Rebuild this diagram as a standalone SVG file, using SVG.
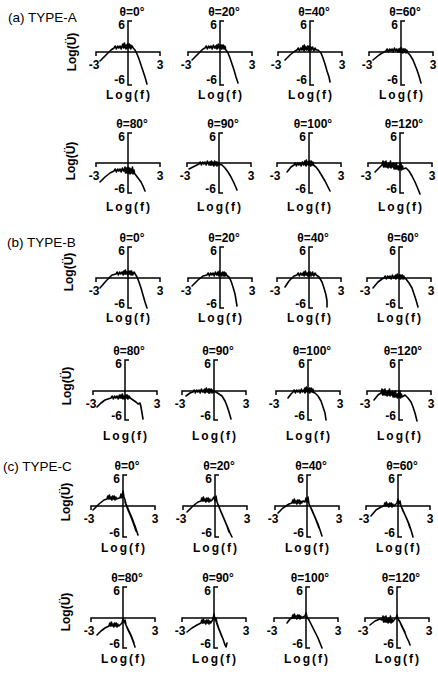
<svg xmlns="http://www.w3.org/2000/svg" width="438" height="674" viewBox="0 0 438 674">
<style>
.ax{fill:none;stroke:#000;stroke-width:1.5}
.cv{fill:none;stroke:#000;stroke-width:1.6;stroke-linejoin:round;stroke-linecap:round}
text{font-family:"Liberation Sans",Arial,sans-serif;font-weight:bold;font-size:12px;fill:#000}
.e{text-anchor:end}
.m{text-anchor:middle}
.sec{font-weight:normal;font-size:13.5px}
</style>
<rect width="438" height="674" fill="#fff"/>
<g id="labels">
<text class="sec" x="8" y="22">(a) TYPE-A</text>
<text class="sec" x="7" y="247">(b) TYPE-B</text>
<text class="sec" x="3" y="471">(c) TYPE-C</text>
</g>
<!-- Row a1 -->
<g id="a-0" transform="translate(128,52)">
<path class="ax" d="M-32,4V0H32V4M4,-31H0V33H4"/>
<text class="e" x="-3" y="-23">6</text><text class="e" x="-3" y="32">-6</text>
<text class="m" x="-34" y="17">-3</text><text class="m" x="32" y="17">3</text>
<text class="m" x="4" y="-36">θ=0°</text><text class="m" x="0" y="47" textLength="44">Log(f)</text>
<text class="m" transform="translate(-52,0) rotate(-90)">Log(Ü)</text>
<path class="cv" d="M-28,9 L-22,3 L-17,-2 L-14,-4 l1.2,-2 l1.2,3 l1.2,-3 l1.2,2 l1.2,-2 l1.2,3 l1.2,-4 l1.2,3 l1.2,-2 l1.2,3 l1.2,-3 l1.2,2 l1.2,-3 l1.2,4 l1.2,-3 l1.2,2 L7,-2 L9,2 L11,7 L13,13 L15,19 L17,25 L19,32 M-6,-5 l0.8,-3 l0.8,3 l0.8,-4 l0.8,4 l0.8,-2 l0.8,3 l0.8,-4 l0.8,3 l0.8,-3 l0.8,4 l0.8,-3 l0.8,2"/>
</g>
<g id="a-20" transform="translate(220,52)">
<path class="ax" d="M-32,4V0H32V4M4,-31H0V33H4"/>
<text class="e" x="-3" y="-23">6</text><text class="e" x="-3" y="32">-6</text>
<text class="m" x="-34" y="17">-3</text><text class="m" x="32" y="17">3</text>
<text class="m" x="4" y="-36">θ=20°</text><text class="m" x="0" y="47" textLength="44">Log(f)</text>
<path class="cv" d="M-28,8 L-22,2 L-17,-3 L-15,-4 l1.2,-2 l1.2,3 l1.2,-3 l1.2,2 l1.2,-2 l1.2,3 l1.2,-4 l1.2,3 l1.2,-2 l1.2,3 l1.2,-3 l1.2,2 l1.2,-3 l1.2,4 l1.2,-3 l1.2,2 L6,-2 L8,1 L10,6 L12,12 L14,18 L16,25 L18,31 M-4,-4 l0.8,-3 l0.8,3 l0.8,-4 l0.8,4 l0.8,-2 l0.8,3 l0.8,-4 l0.8,3 l0.8,-3 l0.8,4 l0.8,-3 l0.8,2"/>
</g>
<g id="a-40" transform="translate(310,52)">
<path class="ax" d="M-32,4V0H32V4M4,-31H0V33H4"/>
<text class="e" x="-3" y="-23">6</text><text class="e" x="-3" y="32">-6</text>
<text class="m" x="-34" y="17">-3</text><text class="m" x="32" y="17">3</text>
<text class="m" x="4" y="-36">θ=40°</text><text class="m" x="0" y="47" textLength="44">Log(f)</text>
<path class="cv" d="M-25,8 L-20,3 L-15,-1 L-13,-2 l1.2,-2 l1.2,3 l1.2,-3 l1.2,2 l1.2,-2 l1.2,3 l1.2,-4 l1.2,3 l1.2,-2 l1.2,3 l1.2,-3 l1.2,2 l1.2,-3 l1.2,4 l1.2,-3 l1.2,2 L8,-2 L11,1 L13,6 L15,12 L17,19 L19,25 L20,30 M-8,-3 l0.8,-3 l0.8,3 l0.8,-4 l0.8,4 l0.8,-2 l0.8,3 l0.8,-4 l0.8,3 l0.8,-3 l0.8,4 l0.8,-3 l0.8,2"/>
</g>
<g id="a-60" transform="translate(401,52)">
<path class="ax" d="M-32,4V0H32V4M4,-31H0V33H4"/>
<text class="e" x="-3" y="-23">6</text><text class="e" x="-3" y="32">-6</text>
<text class="m" x="-34" y="17">-3</text><text class="m" x="32" y="17">3</text>
<text class="m" x="4" y="-36">θ=60°</text><text class="m" x="0" y="47" textLength="44">Log(f)</text>
<path class="cv" d="M-28,8 L-22,3 L-17,0 L-15,-1 l1.2,-2 l1.2,3 l1.2,-3 l1.2,2 l1.2,-2 l1.2,3 l1.2,-4 l1.2,3 l1.2,-2 l1.2,3 l1.2,-3 l1.2,2 l1.2,-3 l1.2,4 l1.2,-3 l1.2,2 L6,0 L9,3 L12,8 L14,13 L16,18 L18,24 L20,31 M-3,0 l0.8,-3 l0.8,3 l0.8,-4 l0.8,4 l0.8,-2 l0.8,3 l0.8,-4 l0.8,3 l0.8,-3 l0.8,4 l0.8,-3 l0.8,2"/>
</g>
<!-- Row a2 -->
<g id="a-80" transform="translate(128,163)">
<path class="ax" d="M-32,4V0H32V4M4,-30H0V30H4"/>
<text class="e" x="-3" y="-22">6</text><text class="e" x="-3" y="30">-6</text>
<text class="m" x="-34" y="17">-3</text><text class="m" x="32" y="17">3</text>
<text class="m" x="4" y="-35">θ=80°</text><text class="m" x="0" y="48" textLength="44">Log(f)</text>
<text class="m" transform="translate(-53,-2) rotate(-90)">Log(Ü)</text>
<path class="cv" d="M-28,19 L-23,14 L-18,10 L-14,8 l1.2,-2 l1.2,3 l1.2,-3 l1.2,2 l1.2,-2 l1.2,3 l1.2,-4 l1.2,3 l1.2,-2 l1.2,3 l1.2,-3 l1.2,2 l1.2,-3 l1.2,4 l1.2,-3 l1.2,2 L7,11 L10,15 L13,19 L15,23 L17,28 M-4,8 l1,-4 l0.5,6 l1,-5 l0.5,5 l1,-6 l0.5,6 l1,-3 l0.5,4 l1,-5 l0.5,4 l1,-6 l0.5,7 l1,-4 l0.5,3"/>
</g>
<g id="a-90" transform="translate(219,163)">
<path class="ax" d="M-32,4V0H32V4M4,-30H0V30H4"/>
<text class="e" x="-3" y="-22">6</text><text class="e" x="-3" y="30">-6</text>
<text class="m" x="-34" y="17">-3</text><text class="m" x="32" y="17">3</text>
<text class="m" x="4" y="-35">θ=90°</text><text class="m" x="0" y="48" textLength="44">Log(f)</text>
<path class="cv" d="M-30,6 L-26,4 L-22,2 L-20,1 l1.2,-2 l1.2,3 l1.2,-3 l1.2,2 l1.2,-2 l1.2,3 l1.2,-4 l1.2,3 l1.2,-2 l1.2,3 l1.2,-3 l1.2,2 l1.2,-3 l1.2,4 l1.2,-3 l1.2,2 L3,2 L6,5 L9,9 L12,14 L15,20 L18,27 M-10,2 l0.8,-3 l0.8,3 l0.8,-4 l0.8,4 l0.8,-2 l0.8,3 l0.8,-4 l0.8,3 l0.8,-3 l0.8,4 l0.8,-3 l0.8,2"/>
</g>
<g id="a-100" transform="translate(309,163)">
<path class="ax" d="M-32,4V0H32V4M4,-30H0V30H4"/>
<text class="e" x="-3" y="-22">6</text><text class="e" x="-3" y="30">-6</text>
<text class="m" x="-34" y="17">-3</text><text class="m" x="32" y="17">3</text>
<text class="m" x="4" y="-35">θ=100°</text><text class="m" x="0" y="48" textLength="44">Log(f)</text>
<path class="cv" d="M-22,9 L-18,4 L-15,2 l1.2,-2 l1.2,3 l1.2,-3 l1.2,2 l1.2,-2 l1.2,3 l1.2,-4 l1.2,3 l1.2,-2 l1.2,3 l1.2,-3 l1.2,2 l1.2,-3 l1.2,4 l1.2,-3 l1.2,2 L7,4 L10,8 L13,13 L16,18 L19,24 L21,28 M-5,1 l0.8,-3 l0.8,3 l0.8,-4 l0.8,4 l0.8,-2 l0.8,3 l0.8,-4 l0.8,3 l0.8,-3 l0.8,4 l0.8,-3 l0.8,2"/>
</g>
<g id="a-120" transform="translate(400,163)">
<path class="ax" d="M-32,4V0H32V4M4,-30H0V30H4"/>
<text class="e" x="-3" y="-22">6</text><text class="e" x="-3" y="30">-6</text>
<text class="m" x="-34" y="17">-3</text><text class="m" x="32" y="17">3</text>
<text class="m" x="4" y="-35">θ=120°</text><text class="m" x="0" y="48" textLength="44">Log(f)</text>
<path class="cv" d="M-25,9 L-21,5 L-18,2 l1,-4 l0.5,6 l1,-5 l0.5,5 l1,-6 l0.5,6 l1,-3 l0.5,4 l1,-5 l0.5,4 l1,-6 l0.5,7 l1,-4 l0.5,3 l1,-4 l0.5,6 l1,-5 l0.5,5 l1,-6 l0.5,6 l1,-3 l0.5,4 l1,-5 l0.5,4 l1,-6 l0.5,7 l1,-4 l0.5,3 L6,5 L9,8 L12,13 L15,19 L18,26 L20,31"/>
</g>
<!-- Row b1 -->
<g id="b-0" transform="translate(128,278)">
<path class="ax" d="M-32,4V0H32V4M4,-31H0V30H4"/>
<text class="e" x="-3" y="-23">6</text><text class="e" x="-3" y="30">-6</text>
<text class="m" x="-34" y="17">-3</text><text class="m" x="32" y="17">3</text>
<text class="m" x="4" y="-36">θ=0°</text><text class="m" x="0" y="44" textLength="44">Log(f)</text>
<text class="m" transform="translate(-55,-6) rotate(-90)">Log(Ü)</text>
<path class="cv" d="M-28,10 L-22,3 L-16,-3 L-12,-4 l1.2,-2 l1.2,3 l1.2,-3 l1.2,2 l1.2,-2 l1.2,3 l1.2,-4 l1.2,3 l1.2,-2 l1.2,3 l1.2,-3 l1.2,2 l1.2,-3 l1.2,4 l1.2,-3 l1.2,2 L9,-1 L11,4 L13,10 L15,17 L17,24 L19,30 M-5,-4 l0.8,-3 l0.8,3 l0.8,-4 l0.8,4 l0.8,-2 l0.8,3 l0.8,-4 l0.8,3 l0.8,-3 l0.8,4 l0.8,-3 l0.8,2"/>
</g>
<g id="b-20" transform="translate(220,278)">
<path class="ax" d="M-32,4V0H32V4M4,-31H0V30H4"/>
<text class="e" x="-3" y="-23">6</text><text class="e" x="-3" y="30">-6</text>
<text class="m" x="-34" y="17">-3</text><text class="m" x="32" y="17">3</text>
<text class="m" x="4" y="-36">θ=20°</text><text class="m" x="0" y="44" textLength="44">Log(f)</text>
<path class="cv" d="M-28,8 L-22,2 L-17,-2 L-13,-3 l1.2,-2 l1.2,3 l1.2,-3 l1.2,2 l1.2,-2 l1.2,3 l1.2,-4 l1.2,3 l1.2,-2 l1.2,3 l1.2,-3 l1.2,2 l1.2,-3 l1.2,4 l1.2,-3 l1.2,2 L9,-1 L11,3 L13,9 L15,16 L16,22 L17,28 M-3,-3 l0.8,-3 l0.8,3 l0.8,-4 l0.8,4 l0.8,-2 l0.8,3 l0.8,-4 l0.8,3 l0.8,-3 l0.8,4 l0.8,-3 l0.8,2"/>
</g>
<g id="b-40" transform="translate(309,278)">
<path class="ax" d="M-32,4V0H32V4M4,-31H0V30H4"/>
<text class="e" x="-3" y="-23">6</text><text class="e" x="-3" y="30">-6</text>
<text class="m" x="-34" y="17">-3</text><text class="m" x="32" y="17">3</text>
<text class="m" x="4" y="-36">θ=40°</text><text class="m" x="0" y="44" textLength="44">Log(f)</text>
<path class="cv" d="M-24,9 L-20,3 L-15,-2 L-12,-3 l1.2,-2 l1.2,3 l1.2,-3 l1.2,2 l1.2,-2 l1.2,3 l1.2,-4 l1.2,3 l1.2,-2 l1.2,3 l1.2,-3 l1.2,2 l1.2,-3 l1.2,4 l1.2,-3 l1.2,2 L10,-1 L13,4 L15,10 L17,17 L18,23 L18,29 M-6,-3 l0.8,-3 l0.8,3 l0.8,-4 l0.8,4 l0.8,-2 l0.8,3 l0.8,-4 l0.8,3 l0.8,-3 l0.8,4 l0.8,-3 l0.8,2"/>
</g>
<g id="b-60" transform="translate(399,278)">
<path class="ax" d="M-32,4V0H32V4M4,-31H0V30H4"/>
<text class="e" x="-3" y="-23">6</text><text class="e" x="-3" y="30">-6</text>
<text class="m" x="-34" y="17">-3</text><text class="m" x="32" y="17">3</text>
<text class="m" x="4" y="-36">θ=60°</text><text class="m" x="0" y="44" textLength="44">Log(f)</text>
<path class="cv" d="M-26,10 L-21,4 L-17,1 L-15,0 l1.2,-2 l1.2,3 l1.2,-3 l1.2,2 l1.2,-2 l1.2,3 l1.2,-4 l1.2,3 l1.2,-2 l1.2,3 l1.2,-3 l1.2,2 l1.2,-3 l1.2,4 l1.2,-3 l1.2,2 L7,1 L10,5 L13,10 L15,16 L17,22 L19,29 M-4,0 l0.8,-3 l0.8,3 l0.8,-4 l0.8,4 l0.8,-2 l0.8,3 l0.8,-4 l0.8,3 l0.8,-3 l0.8,4 l0.8,-3 l0.8,2"/>
</g>
<!-- Row b2 -->
<g id="b-80" transform="translate(125,391)">
<path class="ax" d="M-32,4V0H32V4M4,-31H0V29H4"/>
<text class="e" x="-3" y="-23">6</text><text class="e" x="-3" y="29">-6</text>
<text class="m" x="-34" y="17">-3</text><text class="m" x="32" y="17">3</text>
<text class="m" x="4" y="-36">θ=80°</text><text class="m" x="0" y="49" textLength="44">Log(f)</text>
<text class="m" transform="translate(-54,-5) rotate(-90)">Log(Ü)</text>
<path class="cv" d="M-28,16 L-24,12 L-20,9 L-14,7 l1.2,-2 l1.2,3 l1.2,-3 l1.2,2 l1.2,-2 l1.2,3 l1.2,-4 l1.2,3 l1.2,-2 l1.2,3 l1.2,-3 l1.2,2 l1.2,-3 l1.2,4 l1.2,-3 l1.2,2 L8,9 L11,11 L13,13 L15,12 L16,16 L17,22 L18,28 M-5,7 l0.8,-3 l0.8,3 l0.8,-4 l0.8,4 l0.8,-2 l0.8,3 l0.8,-4 l0.8,3 l0.8,-3 l0.8,4 l0.8,-3 l0.8,2"/>
</g>
<g id="b-90" transform="translate(214,391)">
<path class="ax" d="M-32,4V0H32V4M4,-31H0V29H4"/>
<text class="e" x="-3" y="-23">6</text><text class="e" x="-3" y="29">-6</text>
<text class="m" x="-34" y="17">-3</text><text class="m" x="32" y="17">3</text>
<text class="m" x="4" y="-36">θ=90°</text><text class="m" x="0" y="49" textLength="44">Log(f)</text>
<path class="cv" d="M-28,5 L-24,2 L-21,1 l1.2,-2 l1.2,3 l1.2,-3 l1.2,2 l1.2,-2 l1.2,3 l1.2,-4 l1.2,3 l1.2,-2 l1.2,3 l1.2,-3 l1.2,2 l1.2,-3 l1.2,4 l1.2,-3 l1.2,2 L2,1 L5,3 L8,5 L11,10 L13,15 L15,21 L17,28 M-10,1 l0.8,-3 l0.8,3 l0.8,-4 l0.8,4 l0.8,-2 l0.8,3 l0.8,-4 l0.8,3 l0.8,-3 l0.8,4 l0.8,-3 l0.8,2"/>
</g>
<g id="b-100" transform="translate(308,391)">
<path class="ax" d="M-32,4V0H32V4M4,-31H0V29H4"/>
<text class="e" x="-3" y="-23">6</text><text class="e" x="-3" y="29">-6</text>
<text class="m" x="-34" y="17">-3</text><text class="m" x="32" y="17">3</text>
<text class="m" x="4" y="-36">θ=100°</text><text class="m" x="0" y="49" textLength="44">Log(f)</text>
<path class="cv" d="M-20,7 L-17,3 L-15,1 l1.2,-2 l1.2,3 l1.2,-3 l1.2,2 l1.2,-2 l1.2,3 l1.2,-4 l1.2,3 l1.2,-2 l1.2,3 l1.2,-3 l1.2,2 l1.2,-3 l1.2,4 l1.2,-3 l1.2,2 L7,2 L10,5 L13,10 L15,16 L17,22 L18,29 M-4,0 l0.8,-3 l0.8,3 l0.8,-4 l0.8,4 l0.8,-2 l0.8,3 l0.8,-4 l0.8,3 l0.8,-3 l0.8,4 l0.8,-3 l0.8,2"/>
</g>
<g id="b-120" transform="translate(399,391)">
<path class="ax" d="M-32,4V0H32V4M4,-31H0V29H4"/>
<text class="e" x="-3" y="-23">6</text><text class="e" x="-3" y="29">-6</text>
<text class="m" x="-34" y="17">-3</text><text class="m" x="32" y="17">3</text>
<text class="m" x="4" y="-36">θ=120°</text><text class="m" x="0" y="49" textLength="44">Log(f)</text>
<path class="cv" d="M-25,9 L-21,4 L-18,2 l1,-4 l0.5,6 l1,-5 l0.5,5 l1,-6 l0.5,6 l1,-3 l0.5,4 l1,-5 l0.5,4 l1,-6 l0.5,7 l1,-4 l0.5,3 l1,-4 l0.5,6 l1,-5 l0.5,5 l1,-6 l0.5,6 l1,-3 l0.5,4 l1,-5 l0.5,4 l1,-6 l0.5,7 l1,-4 l0.5,3 L6,4 L9,7 L12,11 L14,16 L16,22 L18,30"/>
</g>
<!-- Row c1 -->
<g id="c-0" transform="translate(123,506)">
<path class="ax" d="M-32,4V0H32V4M4,-31H0V31H4"/>
<text class="e" x="-3" y="-23">6</text><text class="e" x="-3" y="31">-6</text>
<text class="m" x="-34" y="17">-3</text><text class="m" x="32" y="17">3</text>
<text class="m" x="4" y="-36">θ=0°</text><text class="m" x="0" y="46" textLength="44">Log(f)</text>
<text class="m" transform="translate(-53,-4) rotate(-90)">Log(Ü)</text>
<path class="cv" d="M-30,4 L-24,-2 L-19,-6 L-16,-7 l0.8,-3 l0.8,3 l0.8,-4 l0.8,4 l0.8,-2 l0.8,3 l0.8,-4 l0.8,3 l0.8,-3 l0.8,4 l0.8,-3 l0.8,2 L-4,-8 L-3,-8 L-2,-12 L-1,-8 L0,-15 L1,-9 L2,-6 L3,-2 L6,5 L9,12 L12,20 L15,29 M2,-4 L5,4 L8,11 L11,19 L13,25"/>
</g>
<g id="c-20" transform="translate(215,506)">
<path class="ax" d="M-32,4V0H32V4M4,-31H0V31H4"/>
<text class="e" x="-3" y="-23">6</text><text class="e" x="-3" y="31">-6</text>
<text class="m" x="-34" y="17">-3</text><text class="m" x="32" y="17">3</text>
<text class="m" x="4" y="-36">θ=20°</text><text class="m" x="0" y="46" textLength="44">Log(f)</text>
<path class="cv" d="M-28,6 L-22,0 L-17,-4 L-14,-5 l0.8,-3 l0.8,3 l0.8,-4 l0.8,4 l0.8,-2 l0.8,3 l0.8,-4 l0.8,3 l0.8,-3 l0.8,4 l0.8,-3 l0.8,2 L-3,-6 L-1,-9 L0,-5 L1,-10 L2,-4 L4,1 L7,8 L10,15 L13,22 L15,27 L17,31 M3,-2 L6,6 L9,13 L12,20 L14,26"/>
</g>
<g id="c-40" transform="translate(307,506)">
<path class="ax" d="M-32,4V0H32V4M4,-31H0V31H4"/>
<text class="e" x="-3" y="-23">6</text><text class="e" x="-3" y="31">-6</text>
<text class="m" x="-34" y="17">-3</text><text class="m" x="32" y="17">3</text>
<text class="m" x="4" y="-36">θ=40°</text><text class="m" x="0" y="46" textLength="44">Log(f)</text>
<path class="cv" d="M-29,7 L-24,2 L-18,-2 L-15,-3 l0.8,-3 l0.8,3 l0.8,-4 l0.8,4 l0.8,-2 l0.8,3 l0.8,-4 l0.8,3 l0.8,-3 l0.8,4 l0.8,-3 l0.8,2 L-4,-5 L-2,-4 L-1,-8 L0,-4 L1,-9 L2,-2 L5,4 L8,11 L11,18 L13,24 L15,30 M3,0 L6,7 L9,14 L12,22"/>
</g>
<g id="c-60" transform="translate(398,506)">
<path class="ax" d="M-32,4V0H32V4M4,-31H0V31H4"/>
<text class="e" x="-3" y="-23">6</text><text class="e" x="-3" y="31">-6</text>
<text class="m" x="-34" y="17">-3</text><text class="m" x="32" y="17">3</text>
<text class="m" x="4" y="-36">θ=60°</text><text class="m" x="0" y="46" textLength="44">Log(f)</text>
<path class="cv" d="M-27,10 L-22,4 L-17,1 L-14,0 l0.8,-3 l0.8,3 l0.8,-4 l0.8,4 l0.8,-2 l0.8,3 l0.8,-4 l0.8,3 l0.8,-3 l0.8,4 l0.8,-3 l0.8,2 L-3,-1 L-1,-3 L0,-7 L1,-2 L2,-5 L3,0 L5,5 L8,11 L11,18 L13,24 L15,31 M4,2 L7,9 L10,16 L12,22"/>
</g>
<!-- Row c2 -->
<g id="c-80" transform="translate(123,618)">
<path class="ax" d="M-32,4V0H32V4M4,-31H0V30H4"/>
<text class="e" x="-3" y="-23">6</text><text class="e" x="-3" y="30">-6</text>
<text class="m" x="-34" y="17">-3</text><text class="m" x="32" y="17">3</text>
<text class="m" x="4" y="-36">θ=80°</text><text class="m" x="0" y="45" textLength="44">Log(f)</text>
<text class="m" transform="translate(-53,-6) rotate(-90)">Log(Ü)</text>
<path class="cv" d="M-26,17 L-22,13 L-18,10 L-14,8 l0.8,-3 l0.8,3 l0.8,-4 l0.8,4 l0.8,-2 l0.8,3 l0.8,-4 l0.8,3 l0.8,-3 l0.8,4 l0.8,-3 l0.8,2 L-3,7 L-1,5 L0,1 L1,4 L2,2 L3,7 L5,12 L8,18 L10,23 L12,29 M2,5 L5,11 L8,17 L11,25"/>
</g>
<g id="c-90" transform="translate(214,618)">
<path class="ax" d="M-32,4V0H32V4M4,-31H0V30H4"/>
<text class="e" x="-3" y="-23">6</text><text class="e" x="-3" y="30">-6</text>
<text class="m" x="-34" y="17">-3</text><text class="m" x="32" y="17">3</text>
<text class="m" x="4" y="-36">θ=90°</text><text class="m" x="0" y="45" textLength="44">Log(f)</text>
<path class="cv" d="M-27,14 L-22,10 L-17,7 L-13,5 l0.8,-3 l0.8,3 l0.8,-4 l0.8,4 l0.8,-2 l0.8,3 l0.8,-4 l0.8,3 l0.8,-3 l0.8,4 l0.8,-3 l0.8,2 L-2,3 L-1,1 L0,-4 L1,2 L2,0 L3,5 L5,11 L7,16 L9,21 L11,27 L12,29 L13,25 M2,3 L4,9 L6,14 L8,19"/>
</g>
<g id="c-100" transform="translate(306,618)">
<path class="ax" d="M-32,4V0H32V4M4,-31H0V30H4"/>
<text class="e" x="-3" y="-23">6</text><text class="e" x="-3" y="30">-6</text>
<text class="m" x="-34" y="17">-3</text><text class="m" x="32" y="17">3</text>
<text class="m" x="4" y="-36">θ=100°</text><text class="m" x="0" y="45" textLength="44">Log(f)</text>
<path class="cv" d="M-19,5 L-16,1 L-14,0 l0.8,-3 l0.8,3 l0.8,-4 l0.8,4 l0.8,-2 l0.8,3 l0.8,-4 l0.8,3 l0.8,-3 l0.8,4 l0.8,-3 l0.8,2 L-3,-1 L-1,-2 L0,-5 L1,-1 L3,2 L6,8 L9,14 L12,20 L14,25 L16,30 M2,0 L5,6 L8,12 L11,18"/>
</g>
<g id="c-120" transform="translate(397,618)">
<path class="ax" d="M-32,4V0H32V4M4,-31H0V30H4"/>
<text class="e" x="-3" y="-23">6</text><text class="e" x="-3" y="30">-6</text>
<text class="m" x="-34" y="17">-3</text><text class="m" x="32" y="17">3</text>
<text class="m" x="4" y="-36">θ=120°</text><text class="m" x="0" y="45" textLength="44">Log(f)</text>
<path class="cv" d="M-27,7 L-22,3 L-17,1 L-15,2 l1,-4 l0.5,6 l1,-5 l0.5,5 l1,-6 l0.5,6 l1,-3 l0.5,4 l1,-5 l0.5,4 l1,-6 l0.5,7 l1,-4 l0.5,3 L-3,2 L-1,0 L0,-3 L1,1 L3,4 L5,9 L8,15 L10,20 L12,24 L13,27 M2,2 L5,8 L8,14"/>
</g>
<g id="connectors"/>
</svg>
